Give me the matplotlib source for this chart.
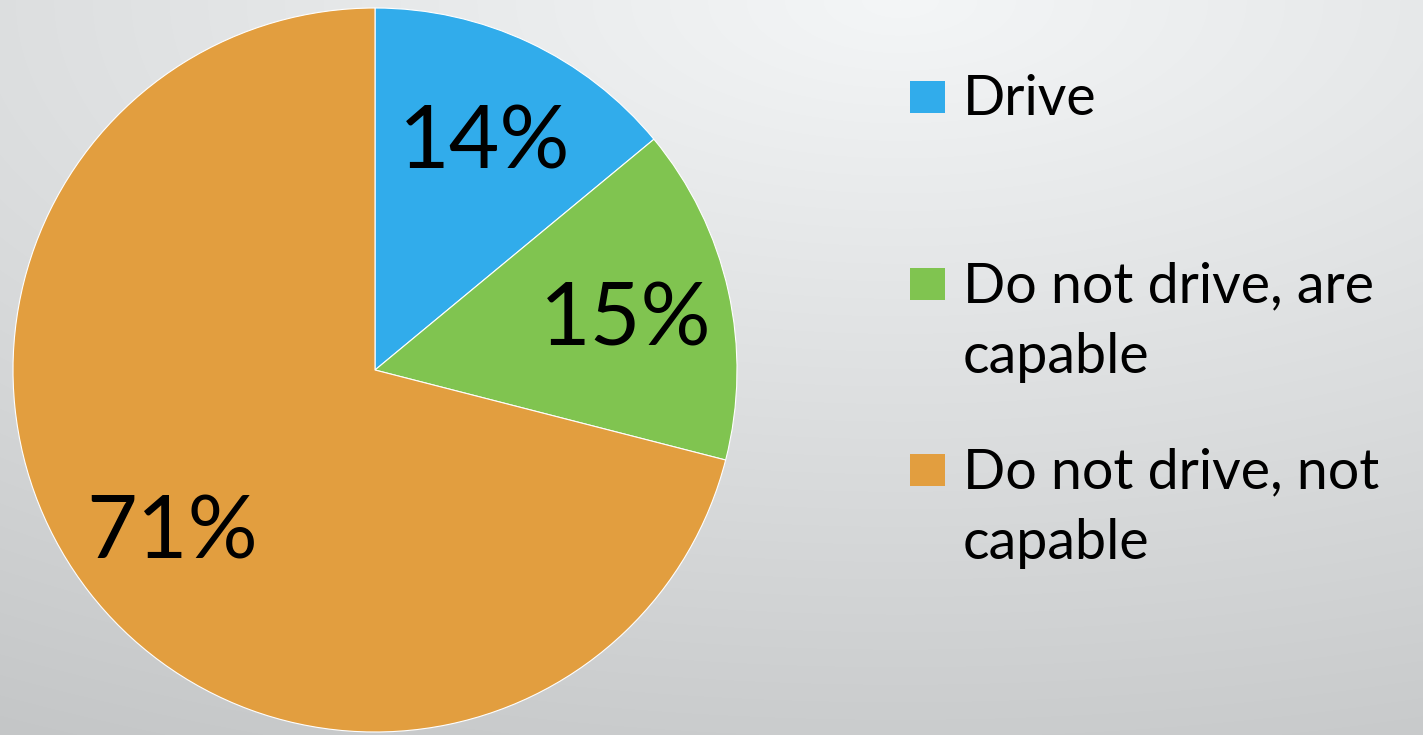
import numpy as np
import matplotlib
matplotlib.use('Agg')
import matplotlib.pyplot as plt
from matplotlib.patches import Rectangle

# Data
categories = ['Drive', 'Do not drive, are\ncapable', 'Do not drive, not\ncapable']
shares = [14, 15, 71]
colors = ['#31ACEB', '#80C450', '#E29E3F']

plt.rcParams['font.family'] = ['Lato', 'DejaVu Sans']

W, H = 1423, 735
fig = plt.figure(figsize=(W / 100, H / 100), dpi=100)

# Background: soft elliptical gradient, light near top right, grey at bottom
bg = fig.add_axes([0, 0, 1, 1])
yy, xx = np.mgrid[0:H, 0:W]
d = np.sqrt((0.026 * (xx - 900)) ** 2 + (0.057 * yy) ** 2)
v = (247 - d) / 255.0
img = np.dstack([v - 3 / 255, v - 1 / 255, v])
bg.imshow(np.clip(img, 0, 1), extent=[0, W, H, 0], aspect='auto')
bg.set_xlim(0, W)
bg.set_ylim(H, 0)
bg.axis('off')

# Pie
cx, cy, r = 375, 370, 362
ax = fig.add_axes([(cx - r) / W, (H - cy - r) / H, 2 * r / W, 2 * r / H])
wedges, texts, autotexts = ax.pie(
    shares, colors=colors, startangle=90, counterclock=False,
    autopct='%1.0f%%', pctdistance=0.71,
    wedgeprops=dict(edgecolor='white', linewidth=0.8),
    textprops=dict(fontsize=63, color='black'))
ax.set_xlim(-1, 1)
ax.set_ylim(-1, 1)
ax.set_aspect('equal')
ax.axis('off')

# put the middle of the digits (not the text box) on the label point
half_cap = 0.5 * 0.7165 * 63 * 100 / 72 / r
for t in autotexts:
    x, y = t.get_position()
    t.set_position((x, y - half_cap))
    t.set_va('baseline')

# Legend (evenly spaced entries like the original)
baselines = [115, 302, 488]
line_gap = 71
for lab, col, yb in zip(categories, colors, baselines):
    bg.add_patch(Rectangle((910, yb - 34), 35, 32, facecolor=col, edgecolor='none'))
    for i, line in enumerate(lab.split('\n')):
        bg.text(963, yb + i * line_gap, line, fontsize=40, color='black',
                va='baseline', ha='left')

fig.savefig('out.png', dpi=100)
